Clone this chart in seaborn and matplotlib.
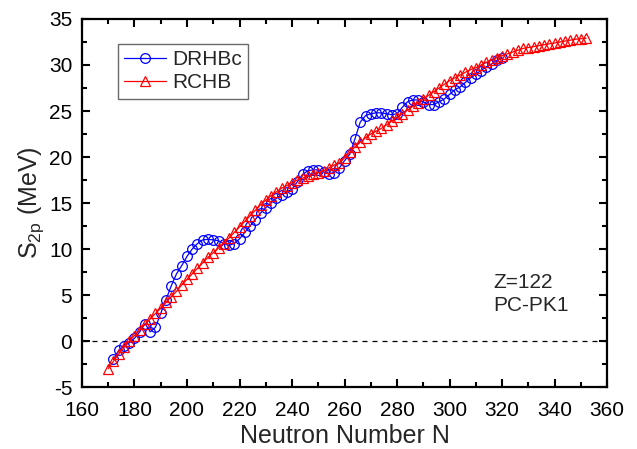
import numpy as np
import pandas as pd
import seaborn as sns
import matplotlib.pyplot as plt
from matplotlib.ticker import MultipleLocator

# RCHB: N = 170..352 (pares)
n_rchb = list(range(170, 354, 2))
s2p_rchb = [-3.0, -2.2, -1.4, -0.7, 0.0, 0.6, 1.2, 1.8, 2.4, 3.0,
            3.6, 4.2, 4.8, 5.4, 6.1, 6.7, 7.3, 7.9, 8.5, 9.1,
            9.6, 10.1, 10.6, 11.2, 11.8, 12.4, 13.0, 13.6, 14.2, 14.8,
            15.3, 15.8, 16.2, 16.6, 16.9, 17.2, 17.5, 17.7, 17.9, 18.1,
            18.3, 18.5, 18.8, 19.1, 19.4, 19.9, 20.5, 21.1, 21.6, 22.1,
            22.5, 22.8, 23.1, 23.5, 23.9, 24.3, 24.7, 25.1, 25.5, 25.9,
            26.3, 26.7, 27.1, 27.5, 27.9, 28.3, 28.6, 28.9, 29.2, 29.5,
            29.7, 30.0, 30.3, 30.5, 30.8, 31.0, 31.2, 31.4, 31.6, 31.8,
            31.9, 32.0, 32.1, 32.2, 32.3, 32.4, 32.5, 32.6, 32.7, 32.8,
            32.85, 32.9]

# DRHBc: N = 172..320 (pares)
n_drhbc = list(range(172, 322, 2))
s2p_drhbc = [-2.0, -1.0, -0.5, -0.2, 0.3, 1.0, 1.9, 1.0, 1.5, 3.0,
             4.5, 6.0, 7.3, 8.2, 9.2, 10.0, 10.6, 11.0, 11.05, 11.0,
             10.9, 10.6, 10.4, 10.6, 11.1, 11.8, 12.5, 13.2, 13.9, 14.5,
             15.0, 15.5, 15.9, 16.2, 16.5, 17.3, 18.1, 18.5, 18.6, 18.6,
             18.4, 18.2, 18.3, 18.8, 19.6, 20.3, 22.0, 23.8, 24.5, 24.7,
             24.8, 24.8, 24.7, 24.6, 24.7, 25.4, 26.0, 26.2, 26.2, 26.0,
             25.7, 25.7, 26.0, 26.3, 26.8, 27.3, 27.6, 28.1, 28.6, 29.0,
             29.4, 29.8, 30.1, 30.5, 30.8]

df_drhbc = pd.DataFrame({"N": n_drhbc, "S2p": s2p_drhbc})
df_rchb = pd.DataFrame({"N": n_rchb, "S2p": s2p_rchb})

sns.set_style("ticks")
plt.rcParams['font.family'] = ['Liberation Sans', 'DejaVu Sans']
plt.rcParams['mathtext.fontset'] = 'custom'
plt.rcParams['mathtext.rm'] = 'Liberation Sans'
plt.rcParams['axes.unicode_minus'] = False

fig = plt.figure(figsize=(6.37, 4.49), dpi=100)
ax = fig.add_axes([0.1287, 0.138, 0.8243, 0.8197])

# Curvas (RCHB por cima)
sns.lineplot(data=df_drhbc, x="N", y="S2p", ax=ax, color="blue", lw=0.9,
             marker="o", markersize=7.0, markerfacecolor="none",
             markeredgecolor="blue", markeredgewidth=0.9, label="DRHBc")
sns.lineplot(data=df_rchb, x="N", y="S2p", ax=ax, color="red", lw=0.9,
             marker="^", markersize=7.8, markerfacecolor="none",
             markeredgecolor="red", markeredgewidth=0.9, label="RCHB")

ax.axhline(0, color="black", ls=(0, (4, 4)), lw=0.9, zorder=0)

ax.set_xlim(160, 360)
ax.set_ylim(-5, 35)
ax.xaxis.set_major_locator(MultipleLocator(20))
ax.xaxis.set_minor_locator(MultipleLocator(10))
ax.yaxis.set_major_locator(MultipleLocator(5))
ax.yaxis.set_minor_locator(MultipleLocator(2.5))
ax.tick_params(which="both", direction="in", top=True, right=True, width=1.5,
               labelsize=15, colors="black")
ax.tick_params(which="major", length=6)
ax.tick_params(which="minor", length=3.5)
ax.tick_params(axis="x", pad=10)
ax.tick_params(axis="y", pad=7)
for s in ax.spines.values():
    s.set_linewidth(1.6)
    s.set_color("black")

ax.set_xlabel("Neutron Number N", fontsize=18, labelpad=3)
ax.set_ylabel("S$_\\mathrm{2p}$ (MeV)", fontsize=18, labelpad=2)

ax.text(316.6, 6.4, "Z=122", fontsize=15, va="center")
ax.text(316.6, 3.9, "PC-PK1", fontsize=15, va="center")

leg = ax.legend(loc="upper left", bbox_to_anchor=(0.069, 0.932), borderaxespad=0,
                fontsize=15, frameon=True, fancybox=False, edgecolor="#444444",
                handlelength=2.0, handletextpad=0.3, borderpad=0.3, labelspacing=0.2)
leg.get_frame().set_linewidth(1.0)

plt.savefig("out.png", dpi=100)
